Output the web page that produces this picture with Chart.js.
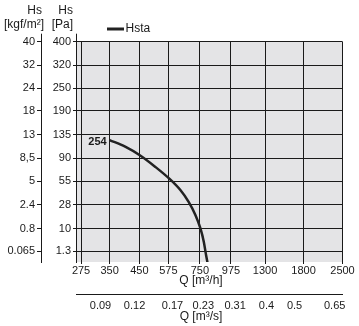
<!DOCTYPE html>
<html>
<head>
<meta charset="utf-8">
<script src="https://cdn.jsdelivr.net/npm/chart.js@4"></script>
<style>
  html, body { margin: 0; padding: 0; background: #fff; }
  #wrap { width: 359px; height: 326px; }
</style>
</head>
<body>
<div id="wrap"><canvas id="fanChart" width="359" height="326"></canvas></div>
<script>
// airflow axis in m3/h (log spacing)
const qTicks = [275, 350, 450, 575, 750, 975, 1300, 1800, 2500];
// second airflow axis in m3/s, and the m3/h value each label sits at
const qsLabels = ['0.09', '0.12', '0.17', '0.23', '0.31', '0.4', '0.5', '0.65'];
const qsAt = [324, 432, 595, 772, 1010, 1316, 1668, 2340];
// static pressure ticks in Pa, and the kgf/m2 labels printed beside them
const paTicks = [400, 320, 250, 190, 135, 90, 55, 28, 10, 1.3];
const kgfLabels = ['40', '32', '24', '18', '13', '8,5', '5', '2.4', '0.8', '0.065'];
// Hsta curve for size 254
const curveQ = [350, 399, 453, 515, 578, 636, 682, 722, 753, 775, 790, 801];
const curvePa = [124, 111, 95, 76, 59, 44, 31, 19.3, 10.2, 3.9, 0.6, 0];
const curveName = '254';
const seriesName = 'Hsta';

const INK = '#1a1a1a';
const qMin = 263.5, qMax = 2500;
Chart.defaults.font.family = '"Liberation Sans", Arial, sans-serif';
Chart.defaults.color = INK;

// pressure axis is square-root spaced (fan law), so plot sqrt(Pa)
const sq = v => Math.sqrt(v);

function crisp(x) { return Math.round(x - 0.5) + 0.5; }

const decor = {
    id: 'decor',
    beforeDraw(chart) {
        const { ctx, chartArea: a } = chart;
        ctx.save();
        ctx.fillStyle = '#e4e4e6';
        ctx.fillRect(a.left, a.top, a.right - a.left, a.bottom - a.top);
        ctx.restore();
    },
    afterDraw(chart) {
        const { ctx, chartArea: a, scales } = chart;
        ctx.save();
        ctx.strokeStyle = INK;
        ctx.lineWidth = 1;
        // both pressure axis lines stick out a bit above the grid
        [scales.yKgf.right, scales.y.right].forEach(x => {
            ctx.beginPath();
            ctx.moveTo(crisp(x), a.top - 8);
            ctx.lineTo(crisp(x), a.top);
            ctx.stroke();
        });

        // axis headers
        ctx.fillStyle = INK;
        ctx.font = '12px "Liberation Sans", Arial, sans-serif';
        ctx.textBaseline = 'middle';
        ctx.textAlign = 'right';
        ctx.fillText('Hs', 42, 11);
        ctx.fillText('[kgf/m²]', 44, 25);
        ctx.fillText('Hs', 73, 11);
        ctx.fillText('[Pa]', 73, 25);
        ctx.textAlign = 'center';
        ctx.fillText('Q [m³/h]', 201, 281);
        ctx.fillText('Q [m³/s]', 201, 317);

        // legend
        const ds = chart.data.datasets[0];
        ctx.strokeStyle = ds.borderColor;
        ctx.lineWidth = 3;
        ctx.beginPath();
        ctx.moveTo(107, 29);
        ctx.lineTo(124, 29);
        ctx.stroke();
        ctx.textAlign = 'left';
        ctx.fillText(ds.label, 125.5, 28.5);

        // size tag at the start of the curve
        const p = chart.getDatasetMeta(0).data[0];
        ctx.font = 'bold 11px "Liberation Sans", Arial, sans-serif';
        ctx.textAlign = 'right';
        ctx.fillText(curveName, p.x - 3, p.y + 2);
        ctx.restore();
    }
};

new Chart(document.getElementById('fanChart'), {
    type: 'line',
    data: {
        datasets: [{
            label: seriesName,
            data: curveQ.map((q, i) => ({ x: q, y: sq(curvePa[i]) })),
            borderColor: '#222',
            borderWidth: 2.5,
            pointRadius: 0,
            cubicInterpolationMode: 'monotone',
            fill: false
        }]
    },
    options: {
        responsive: false,
        animation: false,
        layout: { padding: { top: 41.7, right: 16.5, bottom: 0, left: 0 } },
        plugins: { legend: { display: false }, tooltip: { enabled: false } },
        scales: {
            x: {
                type: 'logarithmic', position: 'bottom', weight: 0,
                min: qMin, max: qMax,
                afterBuildTicks: s => { s.ticks = qTicks.map(v => ({ value: v })); },
                afterFit: s => { s.height = 32; },
                ticks: { autoSkip: false, maxRotation: 0, padding: 0, font: { size: 11 },
                    callback: (v, i) => String(qTicks[i]) },
                grid: { color: INK, lineWidth: 1, tickLength: 2, tickColor: INK },
                border: { display: false }
            },
            x2: {
                type: 'logarithmic', position: 'bottom', weight: 1,
                min: qMin, max: qMax,
                afterBuildTicks: s => { s.ticks = qsAt.map(v => ({ value: v })); },
                afterFit: s => { s.height = 32; },
                ticks: { autoSkip: false, maxRotation: 0, padding: 5, font: { size: 11 },
                    callback: (v, i) => qsLabels[i] },
                grid: { drawOnChartArea: false, drawTicks: false },
                border: { display: true, color: INK }
            },
            y: {
                type: 'linear', position: 'left', weight: 0,
                min: 0.15, max: 20,
                afterBuildTicks: s => { s.ticks = paTicks.map(p => ({ value: sq(p) })); },
                afterFit: s => { s.width = 35; },
                ticks: { autoSkip: false, padding: 2, font: { size: 11 },
                    callback: (v, i) => String(paTicks[i]) },
                grid: { color: INK, lineWidth: 1, tickLength: 3, tickColor: INK },
                border: { color: INK }
            },
            yKgf: {
                type: 'linear', position: 'left', weight: 1,
                min: 0.15, max: 20,
                afterBuildTicks: s => { s.ticks = paTicks.map(p => ({ value: sq(p) })); },
                afterFit: s => { s.width = 41; },
                ticks: { autoSkip: false, padding: 2, font: { size: 11 },
                    callback: (v, i) => kgfLabels[i] },
                grid: { drawOnChartArea: false, tickLength: 4, tickColor: INK },
                border: { color: INK }
            }
        }
    },
    plugins: [decor]
});
</script>
</body>
</html>
